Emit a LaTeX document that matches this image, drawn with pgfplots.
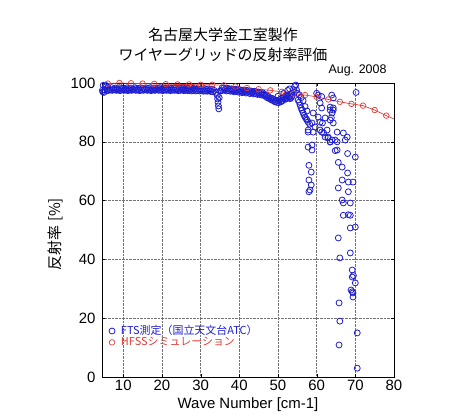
\documentclass[border=0pt]{standalone}
\usepackage{fontspec}
\setmainfont{Liberation Sans}
\newfontfamily\jp{Noto Sans CJK JP}
\usepackage{pgfplots}
\pgfplotsset{compat=1.18}
\definecolor{fts}{RGB}{30,30,210}
\definecolor{hfss}{RGB}{222,60,55}
\begin{document}
\begin{tikzpicture}
\begin{axis}[
 name=ax,
 scale only axis, width=292bp, height=294bp,
 xmin=4.5, xmax=80, ymin=0, ymax=100,
 xtick={10,20,...,80}, ytick={0,20,...,100},
 grid=major, major grid style={black!55, densely dotted, line width=0.5pt},
 tick style={black}, tick align=inside, major tick length=3pt,
 axis line style={black, line width=0.6pt},
 /pgf/number format/assume math mode=true,
 tick label style={font=\fontsize{15}{15}\selectfont},
 yticklabel style={xshift=-3bp},
 xlabel={Wave Number [cm-1]},
 xlabel style={font=\fontsize{15}{15}\selectfont, at={(rel axis cs:0.5,0)}, anchor=center, yshift=-28bp},
 ylabel={\jp 反射率 [\%]},
 ylabel style={font=\fontsize{15}{15}\selectfont, at={(rel axis cs:0,0.5)}, anchor=center, xshift=-4bp, yshift=47bp},
 legend style={at={(0.02,0.09)}, anchor=south west, draw=none, fill=none,
   font=\jp\fontsize{11}{11}\selectfont, row sep=-3pt, column sep=4pt, inner sep=1pt},
 legend cell align=left,
 legend image code/.code={\draw[#1] plot coordinates {(0.15cm,0cm)};},
]
% HFSS line (no legend)
\addplot[hfss, line width=0.7pt, forget plot] coordinates {
(6,99.8)(9,100)(12,99.9)(15,99.8)(18,99.7)(21,99.6)(24,99.5)(27,99.5)(30,99.4)(33,99.4)(36,99.2)(39,98.8)(42,98.3)(45,97.9)(48,97.5)(51,97.0)(54,96.4)(57,95.9)(60,95.3)(63,94.4)(66,93.6)(69,92.9)(72,92.3)(75,90.8)(78,88.9)(80,87.8)};
% FTS measurement, second (lower) row of the dense band
\addplot[only marks, mark=o, mark size=3pt, fts, mark options={line width=0.8pt}, forget plot] coordinates {
(4.7,97.0)(5.2,97.6)(5.7,98.0)(6.2,97.5)(6.7,97.6)(7.2,97.5)(7.7,97.7)(8.2,97.5)(8.7,97.6)(9.2,97.4)(9.7,97.7)(10.2,97.5)(10.7,97.6)(11.2,97.4)(11.7,97.6)(12.2,97.5)(12.7,97.7)(13.2,97.5)(13.7,97.6)(14.2,97.4)(14.7,97.6)(15.2,97.5)(15.7,97.7)(16.2,97.5)(16.7,97.6)(17.2,97.4)(17.7,97.6)(18.2,97.5)(18.7,97.7)(19.2,97.5)(19.7,97.6)(20.2,97.4)(20.7,97.6)(21.2,97.5)(21.7,97.6)(22.2,97.4)(22.7,97.6)(23.2,97.5)(23.7,97.6)(24.2,97.4)(24.7,97.5)(25.2,97.6)(25.7,97.4)(26.2,97.5)(26.7,97.4)(27.2,97.5)(27.7,97.3)(28.2,97.5)(28.7,97.3)(29.2,97.4)(29.7,97.3)(30.2,97.4)(30.7,97.2)(31.2,97.3)(31.7,97.2)(32.2,97.3)(32.7,97.1)(33.2,97.0)(35.2,97.4)(35.7,97.5)(36.2,97.6)(36.7,97.3)(37.2,97.4)(37.7,97.2)(38.2,97.3)(38.7,97.0)(39.2,97.2)(39.7,96.9)(40.2,97.0)(40.7,96.7)(41.2,96.9)(41.7,96.6)(42.2,96.8)(42.7,96.4)(43.2,96.6)(43.7,96.3)(44.2,96.4)(44.7,96.1)(45.2,96.2)(45.7,95.9)(46.2,95.9)(46.7,95.5)(47.2,95.0)(47.7,94.7)(48.2,94.3)(48.7,94.0)(49.2,93.6)(49.7,93.4)(50.2,93.3)(50.7,93.6)(51.2,94.1)(51.7,94.5)(52.2,94.8)(52.7,95.0)(53.2,94.7)(53.7,95.7)(54.2,96.8)
};
% FTS measurement
\addplot[only marks, mark=o, mark size=3pt, fts, mark options={line width=0.8pt}] coordinates {
(4.6,97.5)(4.8,99.2)(5,96.8)(5.3,98.5)(5.5,99.2)(5.8,97.4)(6,98.6)(6.5,97.8)(7,98.4)(7.5,97.9)(8,98.3)(8.5,98.0)(9,98.4)(9.5,98.1)(10,98.3)(10.5,98.0)(11,98.4)(11.5,98.2)(12,98.3)(12.5,98.0)(13,98.4)(13.5,98.2)(14,98.1)(14.5,98.4)(15,98.2)(15.5,98.0)(16,98.3)(16.5,98.2)(17,98.4)(17.5,98.1)(18,98.3)(18.5,98.0)(19,98.2)(19.5,98.4)(20,98.1)(20.5,98.3)(21,98.2)(21.5,98.0)(22,98.3)(22.5,98.1)(23,98.3)(23.5,98.2)(24,98.0)(24.5,98.2)(25,98.1)(25.5,98.3)(26,98.0)(26.5,98.2)(27,98.1)(27.5,97.9)(28,98.2)(28.5,98.0)(29,98.1)(29.5,97.9)(30,98.0)(30.5,97.8)(31,98.1)(31.5,97.9)(32,98.0)(32.5,97.8)(33,97.9)(33.5,97.5)(34,96.8)(34.3,95.8)(34.4,94.6)(34.5,93.4)(34.6,92.2)(34.7,91.2)(34.8,95.0)(35,97.2)(35.5,98.2)(36,98.4)(36.5,98.0)(37,98.2)(37.5,97.9)(38,98.0)(38.5,97.7)(39,97.9)(39.5,97.6)(40,97.8)(40.5,97.4)(41,97.6)(41.5,97.3)(42,97.5)(42.5,97.1)(43,97.3)(43.5,97.0)(44,97.2)(44.5,96.8)(45,96.9)(45.5,96.6)(46,96.7)(46.5,96.2)(47,95.8)(47.5,95.4)(48,95.0)(48.5,94.8)(49,94.4)(49.5,94.1)(50,94.0)(50.5,94.4)(51,94.9)(51.5,95.3)(52,95.6)(52.5,95.9)(53,95.5)(53.5,96.5)(54,97.8)(54.3,98.8)(54.6,99.3)(54.8,97.6)(55,96.5)
(50,95.5)(51,93.8)(52,94.5)(53,94.8)(53.5,95.2)(52.5,97.5)(53,98)(51.5,96.5)
(55.2,94.2)(55.5,93.5)(55.7,92.5)(56,91.5)(56.2,90.8)(56.5,89.8)(56.8,89)(57,88.4)(57.3,87.8)(57.5,87.4)(57.8,86.7)(58.2,86)(58.8,86.4)(59.6,85)(55.5,96)(56,95)(56.5,94)(57,92)(57.5,90.5)
(60.0,96.5)(61.3,95.4)(63.9,95.9)(64.3,94.9)(70.2,96.8)(60.4,95.9)(60.9,93.2)(61.3,91.5)(63.5,90.8)(64.3,91.5)(63.5,91.8)(64.3,90.8)(59.1,89.8)(60.4,88.4)(62.2,88.1)(64.0,89.8)(63.5,87.4)(57.8,84.0)(59.1,83.3)(60.9,84.0)(62.7,84.0)(61.5,86.4)(61.8,83.0)(63.0,81.6)(64.0,80.6)(66.9,83.0)(67.9,81.6)(58.8,78.9)(63.5,79.9)(57.8,83.3)(60.9,86.7)(61.3,83.3)(62.2,81.6)(62.9,81.3)(63.5,80.0)(64.8,80.6)(65.3,77.2)(64.3,86.4)(63.8,88.2)(65.3,83.3)
(57.8,78.2)(58.8,77.2)(58.0,72.0)(58.6,69.7)(58.0,67.0)(58.6,65.3)(58.3,63.6)(58.0,63.0)
(65.3,80.0)(67.4,80.6)(64.8,77.0)(68.0,76.0)(70.0,74.8)(65.6,73.0)(66.6,71.4)(68.0,69.4)(66.6,67.0)(68.2,66.3)(69.4,66.3)(65.6,64.3)(68.2,63.0)(66.6,60.2)(66.9,59.2)(68.7,59.2)(66.9,55.0)(68.7,55.0)(68.2,55.2)(68.7,50.7)(70.0,51.0)(65.6,47.3)(68.7,42.2)(66.0,40.5)(69.2,36.4)(69.2,34.0)(69.5,34.5)(70.0,32.0)(68.9,29.6)(69.4,28.6)(69.2,29.0)(69.4,27.2)(65.8,25.2)(66.0,19.0)(70.5,15.0)(65.8,10.9)(70.5,3.0)
};
\addlegendentry{\textcolor{fts}{FTS測定（国立天文台ATC）}}
% HFSS marks
\addplot[only marks, mark=o, mark size=2.8pt, hfss, mark options={line width=0.7pt}] coordinates {
(6,99.8)(9,100)(12,99.9)(15,99.8)(18,99.7)(21,99.6)(24,99.5)(27,99.5)(30,99.4)(33,99.4)(36,99.2)(39,98.8)(42,98.3)(45,97.9)(48,97.5)(51,97.0)(54,96.4)(57,95.9)(60,95.3)(63,94.4)(66,93.6)(69,92.9)(72,92.3)(75,90.8)(78,88.9)};
\addlegendentry{\textcolor{hfss}{HFSSシミュレーション}}
\end{axis}
\node[font=\jp\fontsize{15}{20}\selectfont, align=center] at (ax.north west) [xshift=121bp, yshift=38bp] {名古屋大学金工室製作\\ワイヤーグリッドの反射率評価};
\node[font=\fontsize{12.5}{12.5}\selectfont, anchor=east] at (ax.north east) [xshift=-4bp, yshift=13bp] {Aug. 2008};
\pgfresetboundingbox
\path (ax.south west) ++(-102bp,-39bp) rectangle ++(453bp,416bp);
\end{tikzpicture}
\end{document}
